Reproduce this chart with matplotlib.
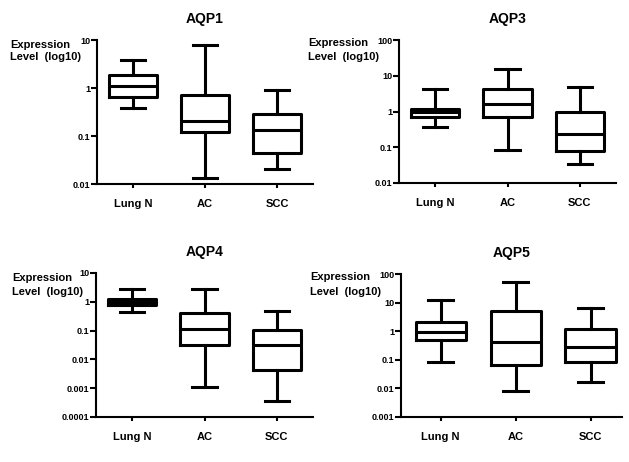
import matplotlib
matplotlib.use('Agg')
import matplotlib.pyplot as plt
from matplotlib.ticker import FixedLocator, FixedFormatter, NullLocator

plt.rcParams['font.family'] = ['Liberation Sans', 'DejaVu Sans']
plt.rcParams['font.weight'] = 'bold'

GROUPS = ['Lung N', 'AC', 'SCC']
TITLES = ['AQP1', 'AQP3', 'AQP4', 'AQP5']

# Box plot stats: [Lung N, AC, SCC]
AQP1_LOW = [0.38, 0.0136, 0.021]
AQP1_Q1 = [0.635, 0.124, 0.0445]
AQP1_MED = [1.10, 0.21, 0.134]
AQP1_Q3 = [1.89, 0.71, 0.285]
AQP1_HIGH = [3.76, 7.9, 0.89]

AQP3_LOW = [0.38, 0.085, 0.0346]
AQP3_Q1 = [0.71, 0.71, 0.080]
AQP3_MED = [0.98, 1.67, 0.228]
AQP3_Q3 = [1.21, 4.38, 0.98]
AQP3_HIGH = [4.2, 15.2, 4.7]

AQP4_LOW = [0.43, 0.00108, 0.00036]
AQP4_Q1 = [0.75, 0.032, 0.00432]
AQP4_MED = [0.98, 0.112, 0.0304]
AQP4_Q3 = [1.24, 0.417, 0.104]
AQP4_HIGH = [2.85, 2.85, 0.49]

AQP5_LOW = [0.082, 0.0084, 0.0173]
AQP5_Q1 = [0.51, 0.065, 0.087]
AQP5_MED = [0.95, 0.414, 0.277]
AQP5_Q3 = [2.08, 5.19, 1.21]
AQP5_HIGH = [12.6, 53.8, 6.6]

Y_TICKS = [
    [0.01, 0.1, 1, 10],
    [0.01, 0.1, 1, 10, 100],
    [0.0001, 0.001, 0.01, 0.1, 1, 10],
    [0.001, 0.01, 0.1, 1, 10, 100],
]
Y_LABELS = [
    ['0.01', '0.1', '1', '10'],
    ['0.01', '0.1', '1', '10', '100'],
    ['0.0001', '0.001', '0.01', '0.1', '1', '10'],
    ['0.001', '0.01', '0.1', '1', '10', '100'],
]

W, H = 629, 462
# axes boxes in pixels: left, top, right, bottom
BOXES = [(97, 40, 313, 184), (399, 40, 616, 183),
         (96, 273, 313, 417), (401, 274, 622, 417)]
XLIMS = [(0.5, 3.5), (0.5, 3.5), (0.5, 3.5), (0.47, 3.42)]
# "Expression" / "Level (log10)" label: x, y line 1, y line 2 (pixels)
LABEL_POS = [(10, 45, 57.5), (308, 43.5, 56.5), (12, 278, 292), (310, 277, 292)]

panels = [
    (AQP1_LOW, AQP1_Q1, AQP1_MED, AQP1_Q3, AQP1_HIGH),
    (AQP3_LOW, AQP3_Q1, AQP3_MED, AQP3_Q3, AQP3_HIGH),
    (AQP4_LOW, AQP4_Q1, AQP4_MED, AQP4_Q3, AQP4_HIGH),
    (AQP5_LOW, AQP5_Q1, AQP5_MED, AQP5_Q3, AQP5_HIGH),
]

fig = plt.figure(figsize=(W / 100, H / 100), dpi=100)
fig.patch.set_facecolor('white')

lw = 2.2
for i, (low, q1, med, q3, high) in enumerate(panels):
    l, t, r, b = BOXES[i]
    ax = fig.add_axes([l / W, 1 - b / H, (r - l) / W, (b - t) / H])

    stats = []
    for k in range(3):
        stats.append(dict(whislo=low[k], q1=q1[k], med=med[k],
                          q3=q3[k], whishi=high[k], fliers=[]))
    ax.bxp(stats, positions=[1, 2, 3], widths=0.67, showfliers=False,
           boxprops=dict(color='black', linewidth=lw),
           medianprops=dict(color='black', linewidth=lw),
           whiskerprops=dict(color='black', linewidth=lw),
           capprops=dict(color='black', linewidth=lw),
           capwidths=0.34)

    ax.set_yscale('log')
    ax.set_ylim(Y_TICKS[i][0], Y_TICKS[i][-1])
    ax.set_xlim(*XLIMS[i])
    ax.yaxis.set_major_locator(FixedLocator(Y_TICKS[i]))
    ax.yaxis.set_major_formatter(FixedFormatter(Y_LABELS[i]))
    ax.yaxis.set_minor_locator(NullLocator())
    ax.set_xticks([1, 2, 3])
    ax.set_xticklabels(GROUPS, fontsize=8, fontweight='bold')
    for lab in ax.get_yticklabels():
        lab.set_fontsize(6.5)
        lab.set_fontweight('bold')

    for s in ['top', 'right']:
        ax.spines[s].set_visible(False)
    for s in ['left', 'bottom']:
        ax.spines[s].set_linewidth(1.5)
    ax.tick_params(axis='y', length=4, width=1.5, pad=1)
    ax.tick_params(axis='x', length=3, width=1.5, pad=8)
    ax.set_facecolor('none')

    ax.set_title(TITLES[i], fontsize=10, fontweight='bold', pad=12)

    lx, ly1, ly2 = LABEL_POS[i]
    fig.text(lx / W, 1 - ly1 / H, 'Expression', fontsize=8,
             fontweight='bold', ha='left', va='center')
    fig.text(lx / W, 1 - ly2 / H, 'Level  (log10)', fontsize=8,
             fontweight='bold', ha='left', va='center')

fig.savefig('out.png', dpi=100)
